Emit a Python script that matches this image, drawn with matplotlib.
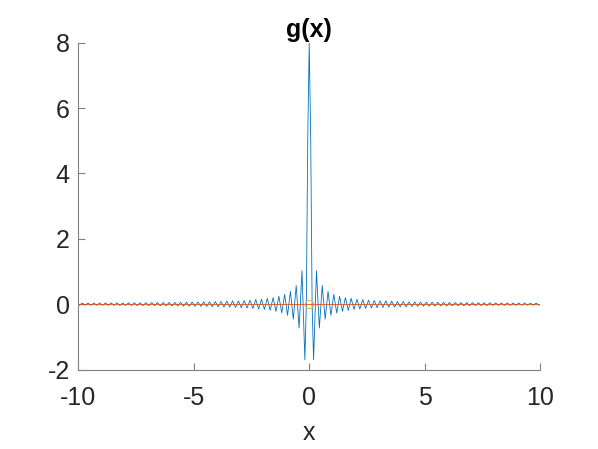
import matplotlib
matplotlib.use("Agg")
import numpy as np
import matplotlib.pyplot as plt

# g(x): peaks/troughs (curve is symmetric about x = 0)
right_x = [
    0.0, 0.063, 0.125, 0.188, 0.313, 0.438, 0.563, 0.688, 0.813, 0.938,
    1.063, 1.188, 1.313, 1.438, 1.563, 1.688, 1.813, 1.938,
    2.063, 2.188, 2.313, 2.438, 2.563, 2.688, 2.813, 2.938,
    3.063, 3.188, 3.313, 3.438, 3.563, 3.688, 3.813, 3.938,
    4.063, 4.188, 4.313, 4.438, 4.563, 4.688, 4.813, 4.938,
    5.063, 5.188, 5.313, 5.438, 5.563, 5.688, 5.813, 5.938,
    6.063, 6.188, 6.313, 6.438, 6.563, 6.688, 6.813, 6.938,
    7.063, 7.188, 7.313, 7.438, 7.563, 7.688, 7.813, 7.938,
    8.063, 8.188, 8.313, 8.438, 8.563, 8.688, 8.813, 8.938,
    9.063, 9.188, 9.313, 9.438, 9.563, 9.688, 9.813, 9.938,
    10.0,
]
right_g = [
    8.0, 5.1, 0.0, -1.70, 1.02, -0.73, 0.57, -0.46, 0.39, -0.34,
    0.30, -0.27, 0.24, -0.22, 0.20, -0.19, 0.18, -0.16,
    0.15, -0.15, 0.14, -0.13, 0.12, -0.12, 0.11, -0.11,
    0.10, -0.10, 0.10, -0.09, 0.09, -0.09, 0.08, -0.08,
    0.08, -0.08, 0.07, -0.07, 0.07, -0.068, 0.066, -0.064,
    0.063, -0.061, 0.060, -0.059, 0.057, -0.056, 0.055, -0.054,
    0.053, -0.051, 0.050, -0.049, 0.049, -0.048, 0.047, -0.046,
    0.045, -0.044, 0.044, -0.043, 0.042, -0.041, 0.041, -0.040,
    0.039, -0.039, 0.038, -0.038, 0.037, -0.037, 0.036, -0.036,
    0.035, -0.035, 0.034, -0.034, 0.033, -0.033, 0.032, -0.032,
    0.0,
]

zero_line_x = [-10, 10]
zero_line_y = [0, 0]
marker_x = [0]
marker_y = [0]

x_ticks = [-10, -5, 0, 5, 10]
y_ticks = [-2, 0, 2, 4, 6, 8]

plt.rcParams['font.family'] = ['Liberation Sans', 'DejaVu Sans']
plt.rcParams['axes.unicode_minus'] = False

xs = np.array(right_x)
gs = np.array(right_g)
x_all = np.concatenate([-xs[::-1], xs[1:]])
g_all = np.concatenate([gs[::-1], gs[1:]])

fig = plt.figure(figsize=(5.98, 4.49), dpi=100)
ax = fig.add_axes([0.1304, 0.177, 0.7734, 0.728])

ax.plot(x_all, g_all, color='#0072BD', linewidth=0.6)
ax.plot(zero_line_x, zero_line_y, color='#D95319', linewidth=0.6)
ax.plot(marker_x, marker_y, 'o', markersize=6, markerfacecolor='none',
        markeredgecolor='#EDB120', markeredgewidth=0.7)

ax.set_xlim(-10, 10)
ax.set_ylim(-2, 8)
ax.set_xticks(x_ticks)
ax.set_yticks(y_ticks)

ax.spines['top'].set_visible(False)
ax.spines['right'].set_visible(False)
for s in ['left', 'bottom']:
    ax.spines[s].set_color('#808080')
    ax.spines[s].set_linewidth(0.8)
ax.tick_params(direction='in', length=5, width=0.8, color='#808080',
               labelsize=18, labelcolor='#262626')
ax.tick_params(axis='x', pad=12)
ax.tick_params(axis='y', pad=6)

ax.set_title('g(x)', fontsize=18, fontweight='bold', color='black', pad=4)
ax.set_xlabel('x', fontsize=18, color='#262626', labelpad=8)

fig.savefig('out.png', dpi=100)
